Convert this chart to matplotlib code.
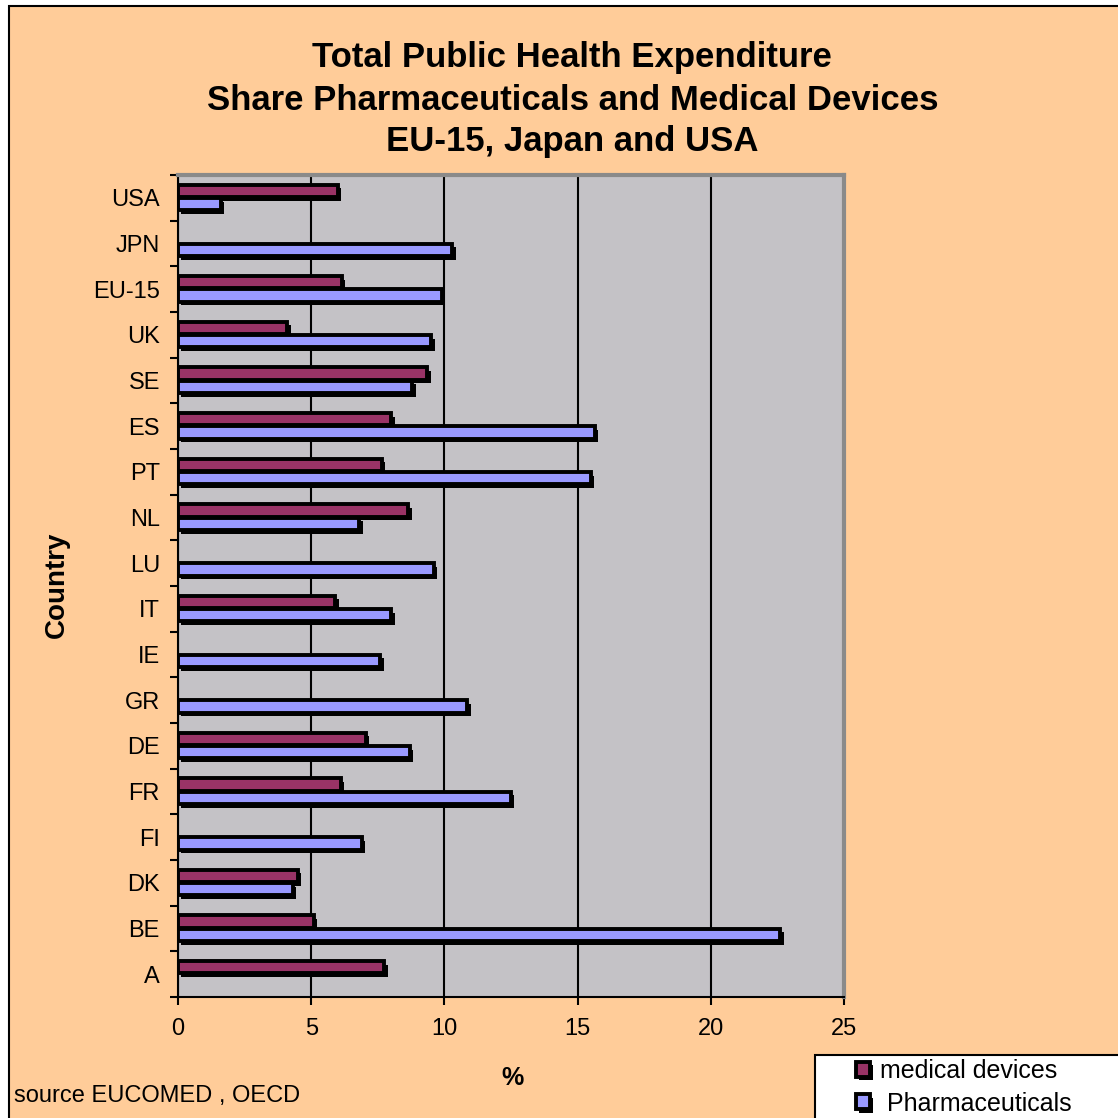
import matplotlib
matplotlib.use('Agg')
import matplotlib.pyplot as plt
import matplotlib.patheffects as pe
from matplotlib.patches import Rectangle
import numpy as np

plt.rcParams['font.family'] = ['Liberation Sans', 'DejaVu Sans']

# countries from bottom to top, NaN where no figure was reported
countries = ['A', 'BE', 'DK', 'FI', 'FR', 'DE', 'GR', 'IE', 'IT',
             'LU', 'NL', 'PT', 'ES', 'SE', 'UK', 'EU-15', 'JPN', 'USA']
medical_devices = [7.75, 5.1, 4.5, np.nan, 6.1, 7.05, np.nan, np.nan, 5.9,
                   np.nan, 8.65, 7.65, 8.0, 9.35, 4.1, 6.15, np.nan, 6.0]
pharmaceuticals = [np.nan, 22.6, 4.3, 6.9, 12.5, 8.7, 10.85, 7.6, 8.0,
                   9.6, 6.8, 15.5, 15.65, 8.8, 9.5, 9.9, 10.3, 1.6]
xticks = [0, 5, 10, 15, 20, 25]

peach = '#FFCC99'
plot_bg = '#C4C2C6'
col_md = '#993366'
col_ph = '#9999FF'

fig = plt.figure(figsize=(11.18, 11.18), dpi=100, facecolor='white')
# chart area with its thin black frame
fig.patches.append(Rectangle((9 / 1118, -0.1), 1.2, 1.1 - 6 / 1118,
                             transform=fig.transFigure, facecolor=peach,
                             edgecolor='black', linewidth=1.5, zorder=-5))

ax = fig.add_axes([178 / 1118, 1 - 997 / 1118, 666 / 1118, 822 / 1118])
ax.set_facecolor(plot_bg)

y = np.arange(len(countries))
h = 0.27
shadow = [pe.SimplePatchShadow(offset=(2.5, -2.5), shadow_rgbFace='black', alpha=1),
          pe.Normal()]
md = ax.barh(y + 0.15, medical_devices, height=h, color=col_md,
             edgecolor='black', linewidth=2.8, zorder=3, label='medical devices')
ph = ax.barh(y - 0.14, pharmaceuticals, height=h, color=col_ph,
             edgecolor='black', linewidth=2.8, zorder=3, label=' Pharmaceuticals')
for bar in list(md) + list(ph):
    bar.set_path_effects(shadow)

ax.set_xlim(0, 25)
ax.set_ylim(-0.5, len(countries) - 0.5)
ax.set_xticks(xticks)
ax.set_yticks(y)
ax.set_yticklabels(countries)
ax.set_yticks(np.arange(-0.5, len(countries)), minor=True)
ax.tick_params(axis='y', which='major', length=0, labelsize=17, pad=13)
ax.tick_params(axis='y', which='minor', length=6, width=1.5)
ax.tick_params(axis='x', length=6, width=1.5, labelsize=17, pad=9)
ax.xaxis.grid(True, color='black', linewidth=1.5, zorder=1)
ax.set_axisbelow(True)

for side in ['left', 'bottom']:
    ax.spines[side].set_color('black')
    ax.spines[side].set_linewidth(1.5)
for side in ['top', 'right']:
    ax.spines[side].set_color('#8A8A8A')
    ax.spines[side].set_linewidth(3)

fig.text(0.512, 1 - 57 / 1118, 'Total Public Health Expenditure',
         ha='center', va='center', fontsize=25, fontweight='bold')
fig.text(0.512, 1 - 100 / 1118, 'Share Pharmaceuticals and Medical Devices',
         ha='center', va='center', fontsize=25, fontweight='bold')
fig.text(0.512, 1 - 141 / 1118, 'EU-15, Japan and USA',
         ha='center', va='center', fontsize=25, fontweight='bold')

fig.text(57 / 1118, 1 - 585 / 1118, 'Country', rotation=90, ha='center',
         va='center', fontsize=20, fontweight='bold')
fig.text(512 / 1118, 1 - 1078 / 1118, '%', ha='center', va='center',
         fontsize=18, fontweight='bold')
fig.text(14 / 1118, 1 - 1096 / 1118, 'source EUCOMED , OECD', ha='left',
         va='center', fontsize=17)

# white legend box running off the lower right corner
fig.patches.append(Rectangle((815 / 1118, -0.05), 0.4, 0.05 + 63 / 1118,
                             transform=fig.transFigure, facecolor='white',
                             edgecolor='black', linewidth=1.5, zorder=5))
leg = fig.legend(handles=[md, ph], loc='upper left',
                 bbox_to_anchor=(856 / 1118, 1 - 1059 / 1118), fontsize=18,
                 frameon=False, handlelength=0.55, handleheight=0.55,
                 handletextpad=0.4, borderpad=0, labelspacing=0.35,
                 borderaxespad=0)
leg.set_zorder(6)

fig.savefig('out.png', dpi=100, facecolor=fig.get_facecolor())
